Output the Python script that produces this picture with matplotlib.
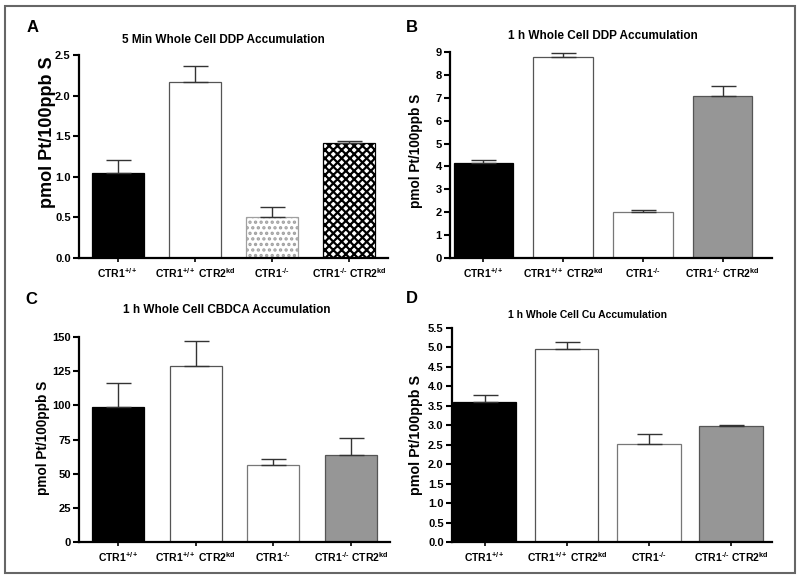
import matplotlib
matplotlib.use("Agg")
import matplotlib.pyplot as plt
import numpy as np
from matplotlib.patches import Rectangle

plt.rcParams['font.family'] = ['Liberation Sans', 'DejaVu Sans']
plt.rcParams['font.weight'] = 'bold'
plt.rcParams['mathtext.fontset'] = 'custom'
plt.rcParams['mathtext.rm'] = 'Liberation Sans:bold'
plt.rcParams['mathtext.it'] = 'Liberation Sans:bold'
plt.rcParams['mathtext.bf'] = 'Liberation Sans:bold'
plt.rcParams['hatch.linewidth'] = 1.6

groups = ['CTR1$^{+/+}$', 'CTR1$^{+/+}$ CTR2$^{kd}$', 'CTR1$^{\u2010/\u2010}$', 'CTR1$^{\u2010/\u2010}$ CTR2$^{kd}$']

titles = ['5 Min Whole Cell DDP Accumulation', '1 h Whole Cell DDP Accumulation',
          '1 h Whole Cell CBDCA Accumulation', '1 h Whole Cell Cu Accumulation']
letters = ['A', 'B', 'C', 'D']

a_mean = [1.05, 2.17, 0.51, 1.42]
a_err = [0.16, 0.20, 0.12, 0.02]
b_mean = [4.17, 8.78, 2.02, 7.08]
b_err = [0.11, 0.18, 0.08, 0.42]
c_mean = [99, 129, 56, 64]
c_err = [17, 18, 5, 12]
d_mean = [3.60, 4.96, 2.52, 2.98]
d_err = [0.18, 0.17, 0.26, 0.02]

a_ticks = [0.0, 0.5, 1.0, 1.5, 2.0, 2.5]
b_ticks = [0, 1, 2, 3, 4, 5, 6, 7, 8, 9]
c_ticks = [0, 25, 50, 75, 100, 125, 150]
d_ticks = [0.0, 0.5, 1.0, 1.5, 2.0, 2.5, 3.0, 3.5, 4.0, 4.5, 5.0, 5.5]

fig = plt.figure(figsize=(8, 5.83), dpi=100)

# axes boxes in pixels: left, right, bottom(y px), top(y px)
boxes = [(79, 388, 258, 55), (450, 772, 258, 52), (79, 390, 542, 337), (452, 772, 542, 328)]
xlims = [(-0.5, 3.5), (-0.42, 3.62), (-0.5, 3.5), (-0.4, 3.5)]
widths = [0.67, 0.75, 0.67, 0.77]
fmts = ['%.1f', '%d', '%d', '%.1f']
title_sz = [8.5, 8.5, 8.5, 7.5]
title_pos = [(223, 40), (603, 36), (227, 310), (588, 315)]
letter_pos = [(33, 28), (412, 28), (31, 300), (412, 299)]
ylab_pos = [(48, 208), (416, 208), (43, 495), (416, 495)]
ylab_sz = [13, 9.8, 9.8, 10.3]

data = [(a_mean, a_err, a_ticks), (b_mean, b_err, b_ticks),
        (c_mean, c_err, c_ticks), (d_mean, d_err, d_ticks)]

W, H = 800, 583
x = np.arange(4)
for i in range(4):
    mean, err, ticks = data[i]
    l, r, b, t = boxes[i]
    ax = fig.add_axes([l / W, 1 - b / H, (r - l) / W, (b - t) / H])
    faces = ['black', 'white', 'white', '#969696']
    edges = ['black', '#555555', '#777777', '#555555']
    hatches = [None, None, None, None]
    if i == 0:
        faces[3] = 'white'
        edges[3] = 'black'
        hatches[3] = 'xxxx'
        edges[2] = '#a0a0a0'
        hatches[2] = '...'
    for j in range(4):
        ax.bar(x[j], mean[j], width=widths[i], color=faces[j], edgecolor=edges[j],
               hatch=hatches[j], linewidth=0.9, zorder=2)
        ax.errorbar(x[j], mean[j], yerr=[[0], [err[j]]], fmt='none', ecolor='#333333',
                    elinewidth=1.0, capsize=9, capthick=1.0, zorder=3)
    ax.set_xlim(*xlims[i])
    ax.set_ylim(0, ticks[-1])
    ax.set_yticks(ticks)
    ax.set_yticklabels([fmts[i] % v for v in ticks], fontsize=8, fontweight='bold')
    ax.set_xticks(x)
    ax.set_xticklabels(groups, fontsize=7.5, fontweight='bold')
    ax.spines['top'].set_visible(False)
    ax.spines['right'].set_visible(False)
    ax.spines['left'].set_linewidth(1.6)
    ax.spines['bottom'].set_linewidth(1.6)
    ax.tick_params(axis='y', length=4, width=1.5, pad=2)
    ax.tick_params(axis='x', length=3, width=1.2, pad=3)
    fig.text(title_pos[i][0] / W, 1 - title_pos[i][1] / H, titles[i], fontsize=title_sz[i],
             fontweight='bold', ha='center', va='center')
    fig.text(letter_pos[i][0] / W, 1 - letter_pos[i][1] / H, letters[i], fontsize=12,
             fontweight='bold', ha='center', va='center')
    fig.text(ylab_pos[i][0] / W, 1 - ylab_pos[i][1] / H, 'pmol Pt/100ppb S', fontsize=ylab_sz[i],
             fontweight='bold', rotation=90, ha='center', va='bottom')

fig.patches.append(Rectangle((5 / W, 1 - 573 / H), 790 / W, 567 / H, transform=fig.transFigure,
                             fill=False, edgecolor='#666666', linewidth=1.5))

fig.savefig('out.png', dpi=100)
